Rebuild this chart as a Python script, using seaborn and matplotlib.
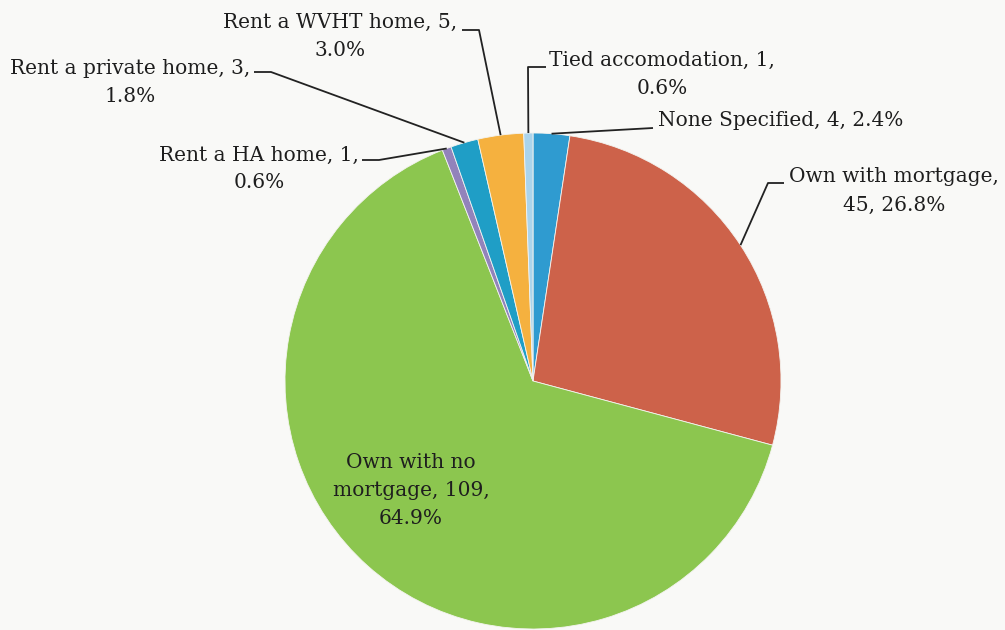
import numpy as np
import matplotlib
matplotlib.use("Agg")
import matplotlib.pyplot as plt
import seaborn as sns

# ============================================================================
# DATA
# ============================================================================

categories = ["None Specified", "Own with mortgage", "Own with no mortgage",
              "Rent a HA home", "Rent a private home", "Rent a WVHT home",
              "Tied accomodation"]
counts = [4, 45, 109, 1, 3, 5, 1]
label_text = [
    "None Specified, 4, 2.4%",
    "Own with mortgage,\n45, 26.8%",
    "Own with no\nmortgage, 109,\n64.9%",
    "Rent a HA home, 1,\n0.6%",
    "Rent a private home, 3,\n1.8%",
    "Rent a WVHT home, 5,\n3.0%",
    "Tied accomodation, 1,\n0.6%",
]
colors = ["#2f9bd0", "#cd624a", "#8cc64f", "#9283bb", "#1f9ec6", "#f5b13f", "#aad4ec"]

# ============================================================================
# LAYOUT (pixel coords, y down)
# ============================================================================

CENTER = (533, 381)
RADIUS = 248
text_pos = [(658, 121), (894, 191), (411, 490), (259, 169), (130, 82), (340, 36), (662, 74)]
leaders = [
    [(653, 128)],
    [(768, 183), (784, 183)],
    None,
    [(379, 160), (362, 160)],
    [(271, 72), (254, 72)],
    [(479, 30), (462, 30)],
    [(528, 67), (546, 67)],
]
aligns = ["left", "center", "center", "center", "center", "center", "center"]

# ============================================================================
# PLOT
# ============================================================================

sns.set_theme(style="white")
plt.rcParams['font.family'] = ['DejaVu Serif']

fig = plt.figure(figsize=(10.05, 6.3), dpi=100)
fig.patch.set_facecolor("#f9f9f7")
ax = fig.add_axes([0, 0, 1, 1])
ax.set_facecolor("#f9f9f7")

# y axis is inverted, so counterclockwise in data = clockwise on screen
wedges, _ = ax.pie(counts, colors=colors, center=CENTER, radius=RADIUS,
                   startangle=-90, counterclock=True,
                   wedgeprops=dict(edgecolor="#f4f4f0", linewidth=0.6))
ax.set_xlim(0, 1005)
ax.set_ylim(630, 0)
ax.set_aspect("equal")
ax.axis("off")

for w, txt, pos, lead, ha in zip(wedges, label_text, text_pos, leaders, aligns):
    if lead is not None:
        mid = np.deg2rad((w.theta1 + w.theta2) / 2)
        edge = (CENTER[0] + RADIUS * np.cos(mid), CENTER[1] + RADIUS * np.sin(mid))
        pts = [edge] + lead
        ax.plot([p[0] for p in pts], [p[1] for p in pts], color="#222222", lw=1.3,
                solid_capstyle="butt")
    ax.text(pos[0], pos[1], txt, ha=ha, va="center", multialignment="center",
            fontsize=14.5, color="#1e1e1e", linespacing=1.6)

fig.savefig("out.png", dpi=100, facecolor=fig.get_facecolor())
